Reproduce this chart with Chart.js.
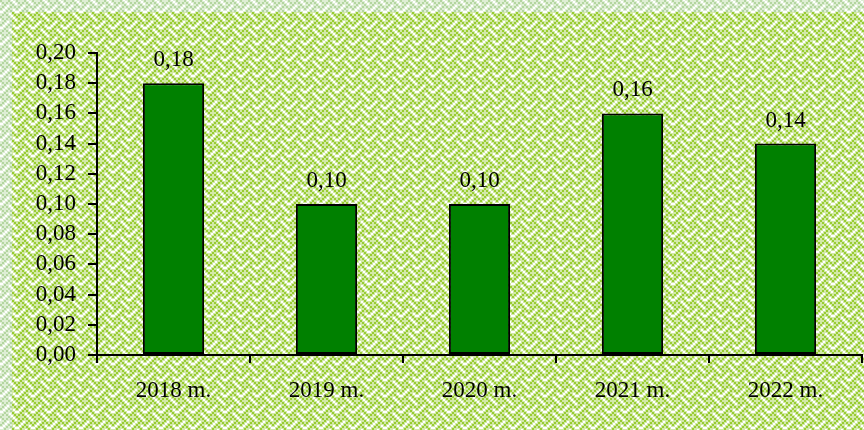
<!DOCTYPE html>
<html>
<head>
<meta charset="utf-8">
<script src="https://cdn.jsdelivr.net/npm/chart.js@4/dist/chart.umd.min.js"></script>
<style>
  html, body { margin: 0; padding: 0; background: #fff; }
  #wrap { width: 864px; height: 430px; }
</style>
</head>
<body>
<div id="wrap"><canvas id="grafico" width="864" height="430"></canvas></div>
<script>
// datos
const anios = ['2018 m.', '2019 m.', '2020 m.', '2021 m.', '2022 m.'];
const valores = [0.18, 0.10, 0.10, 0.16, 0.14];
const etiquetasY = ['0,00', '0,02', '0,04', '0,06', '0,08', '0,10', '0,12', '0,14', '0,16', '0,18', '0,20'];

const fuente = '"Liberation Serif", "Times New Roman", serif';

// patron "weave" 8x8 escalado x2, con un borde suave alrededor de cada punto
function crearTrama(colorFrente, colorSuave) {
    const bits = [0x88, 0x54, 0x22, 0x45, 0x88, 0x14, 0x22, 0x51];
    const lado = 16;
    const c = document.createElement('canvas');
    c.width = lado; c.height = lado;
    const g = c.getContext('2d');
    g.fillStyle = '#ffffff';
    g.fillRect(0, 0, lado, lado);
    function puntos(tam, color) {
        g.fillStyle = color;
        for (let f = 0; f < 8; f++) {
            for (let k = 0; k < 8; k++) {
                if (!(bits[f] & (0x80 >> k))) continue;
                const x = k * 2 - (tam - 2) / 2, y = f * 2 - (tam - 2) / 2;
                [0, -lado, lado].forEach(function(dx) {
                    [0, -lado, lado].forEach(function(dy) {
                        g.fillRect(x + dx, y + dy, tam, tam);
                    });
                });
            }
        }
    }
    puntos(4, colorSuave);
    puntos(2, colorFrente);
    return g.createPattern(c, 'repeat');
}

const fondo = {
    id: 'fondo',
    beforeDraw(chart) {
        const ctx = chart.ctx;
        ctx.save();
        ctx.fillStyle = crearTrama('#b4d6a0', '#deeed4');
        ctx.fillRect(0, 0, chart.width, chart.height);
        ctx.fillStyle = crearTrama('#99cc33', '#d2e9a8');
        ctx.fillRect(12, 12, chart.width - 12, chart.height - 12);
        ctx.restore();
    }
};

const etiquetasBarras = {
    id: 'etiquetasBarras',
    afterDatasetsDraw(chart) {
        const ctx = chart.ctx;
        const meta = chart.getDatasetMeta(0);
        ctx.save();
        ctx.font = '23px ' + fuente;
        ctx.fillStyle = '#000';
        ctx.textAlign = 'center';
        ctx.textBaseline = 'alphabetic';
        meta.data.forEach(function(barra, i) {
            ctx.fillText(valores[i].toFixed(2).replace('.', ','), barra.x, barra.y - 17);
        });
        ctx.restore();
    }
};

const ctx = document.getElementById('grafico').getContext('2d');
new Chart(ctx, {
    type: 'bar',
    data: {
        labels: anios,
        datasets: [{
            data: valores,
            backgroundColor: '#008000',
            borderColor: '#000',
            borderWidth: 2,
            borderSkipped: false,
            categoryPercentage: 1,
            barPercentage: 0.4
        }]
    },
    options: {
        responsive: false,
        animation: false,
        layout: { padding: { top: 53, right: 2, left: 0, bottom: 0 } },
        plugins: {
            legend: { display: false },
            tooltip: { enabled: false }
        },
        scales: {
            x: {
                grid: { drawOnChartArea: false, drawTicks: true, tickLength: 8, color: '#000', lineWidth: 2 },
                border: { color: '#000', width: 2 },
                ticks: { color: '#000', font: { family: fuente, size: 23 }, padding: 14, maxRotation: 0 },
                afterFit(escala) { escala.height = 75; }
            },
            y: {
                min: 0,
                max: 0.2,
                grid: { drawOnChartArea: false, drawTicks: true, tickLength: 9, color: '#000', lineWidth: 2 },
                border: { color: '#000', width: 2 },
                ticks: {
                    stepSize: 0.02,
                    autoSkip: false,
                    color: '#000',
                    font: { family: fuente, size: 23 },
                    padding: 12,
                    callback: function(v, i) { return etiquetasY[i]; }
                },
                afterFit(escala) { escala.width = 97; }
            }
        }
    },
    plugins: [fondo, etiquetasBarras]
});
</script>
</body>
</html>
